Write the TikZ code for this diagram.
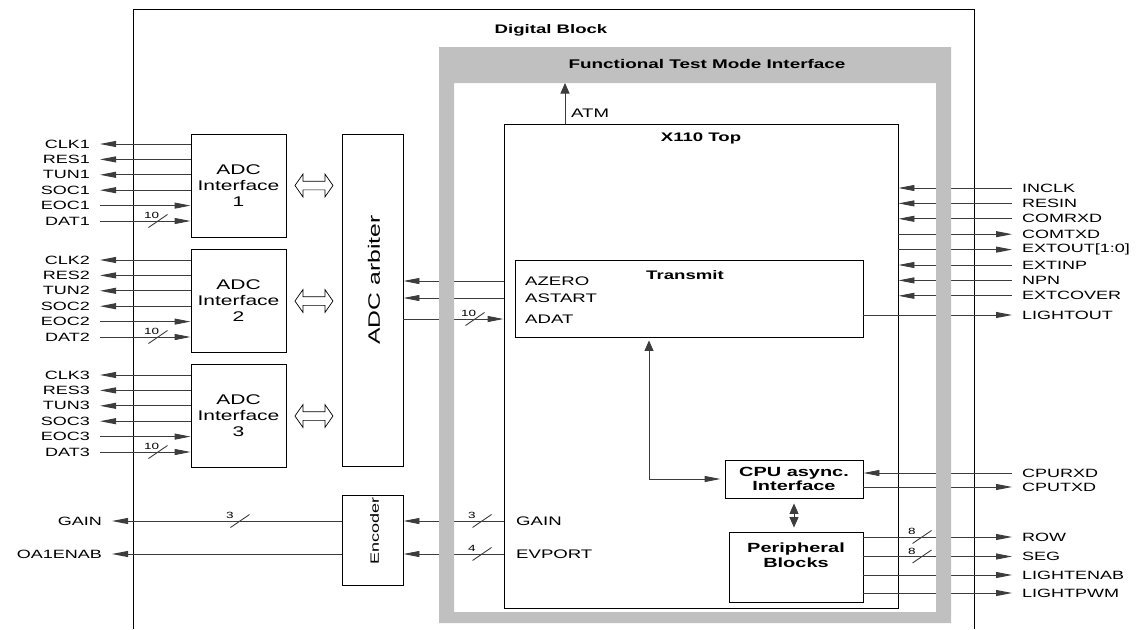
\documentclass[tikz,border=0pt]{standalone}
\usepackage{fontspec}
\setmainfont{Liberation Sans}[FakeStretch=1.5]
\usetikzlibrary{arrows.meta,shapes.arrows}

\definecolor{ftmgray}{RGB}{192,192,192}
\definecolor{wirecol}{RGB}{60,60,60}

\tikzset{
  >={Triangle[length=16pt,width=6pt]},
  box/.style={draw=black, line width=0.9pt, inner sep=0pt, align=center},
  wire/.style={draw=wirecol, line width=0.9pt},
  vhead/.style={-{Triangle[length=10.5pt,width=9pt]}},
  sigl/.style={anchor=east, inner xsep=10pt, inner ysep=0pt, font=\fontsize{12}{14}\selectfont},
  sigr/.style={anchor=west, inner xsep=10pt, inner ysep=0pt, font=\fontsize{12}{14}\selectfont},
  port/.style={anchor=west, inner sep=0pt, font=\fontsize{12.4}{14}\selectfont},
  ttl/.style={inner sep=0pt, font=\bfseries\fontsize{12.4}{14}\selectfont},
  buswd/.style={anchor=south west, inner sep=0pt, font=\fontsize{9}{10}\selectfont},
  hollow/.style={shape=double arrow, draw=black, fill=white, line width=0.7pt,
    inner sep=4pt, minimum height=38pt, double arrow head extend=7pt,
    double arrow tip angle=110}
}
\newcommand{\busmark}[2]{%
  \draw[wire] (#1) +(-9.5,6.5) -- +(9.5,-6.5);
  \path (#1) +(-14,-2) node[buswd] {#2};}

\begin{document}
\begin{tikzpicture}[x=1pt,y=-1pt]
  \useasboundingbox (0,0) rectangle (1140,629);
  \draw[line width=0.9pt] (133,629) -- (133,9) -- (974,9) -- (974,629);
  \node[ttl] (dig) at (551,30) {Digital Block};

  % X110 top and its inner blocks
  \node[box, minimum width=394pt, minimum height=484pt] (top) at (701,366) {};
  \node[ttl] (toplbl) at (701,138) {X110 Top};
  \node[box, minimum width=348pt, minimum height=77pt] (tx) at (689,298.5) {};
  \node[ttl] (txlbl) at (685,275) {Transmit};
  \node[port] (azero) at (525,281) {AZERO};
  \node[port] (astart) at (525,298) {ASTART};
  \node[port] (adat) at (525,319) {ADAT};
  \node[port] (atm) at (571,113) {ATM};
  \node[port] (gainp) at (516,521) {GAIN};
  \node[port] (evport) at (516,554) {EVPORT};
  \node[box, minimum width=138pt, minimum height=38pt,
    font=\bfseries\fontsize{13.3}{14.5}\selectfont] (cpu) at (794,479) {CPU async.\\Interface};
  \node[box, minimum width=134pt, minimum height=70pt] (per) at (796,567) {};
  \node[align=center, font=\bfseries\fontsize{13.3}{15.5}\selectfont] (perlbl) at (796,555) {Peripheral\\Blocks};

  % ADC side
  \foreach \n/\yy in {1/185.5,2/301,3/416}
    \node[box, minimum width=95pt, minimum height=103pt,
      font=\fontsize{14}{16}\selectfont] (adc\n) at (238.5,\yy) {ADC\\Interface\\\n};
  \node[box, minimum width=61pt, minimum height=332pt] (arb) at (372.5,300) {};
  \node[rotate=90, inner sep=0pt, font=\fontsize{16.5}{18}\selectfont] (arblbl) at (374,280) {ADC arbiter};
  \node[box, minimum width=61pt, minimum height=90pt] (enc) at (372.5,540) {};
  \node[rotate=90, inner sep=0pt, font=\fontsize{12}{14}\selectfont] (enclbl) at (374.5,531) {Encoder};
  \foreach \n in {1,2,3}
    \node[hollow] (link\n) at ([xshift=27.5pt]adc\n.east) {};

  \foreach \n/\yy in {1/144,2/260,3/375} {
    \node[sigl] (clk\n) at (100,\yy) {CLK\n};
    \node[sigl] (res\n) at (100,\yy+15.4) {RES\n};
    \node[sigl] (tun\n) at (100,\yy+30.8) {TUN\n};
    \node[sigl] (soc\n) at (100,\yy+46.2) {SOC\n};
    \node[sigl] (eoc\n) at (100,\yy+61.6) {EOC\n};
    \node[sigl] (dat\n) at (100,\yy+77) {DAT\n};
    \foreach \s in {clk,res,tun,soc}
      \draw[wire,->] (adc\n.west |- \s\n) -- (\s\n);
    \foreach \s in {eoc,dat}
      \draw[wire,->] (\s\n) -- (\s\n -| adc\n.west);
    \busmark{158,\yy+77}{10}
  }

  \draw[wire,->] (top.west |- azero) -- (arb.east |- azero);
  \draw[wire,->] (top.west |- astart) -- (arb.east |- astart);
  \draw[wire,->] (arb.east |- adat) -- (top.west |- adat);
  \busmark{475,319}{10}

  \draw[wire,->] (top.west |- gainp) -- (enc.east |- gainp);
  \draw[wire,->] (top.west |- evport) -- (enc.east |- evport);
  \busmark{482,521}{3}
  \busmark{482,554}{4}
  \node[sigl] (gaino) at (112,521) {GAIN};
  \node[sigl] (oaenab) at (112,554) {OA1ENAB};
  \draw[wire,->] (enc.west |- gaino) -- (gaino);
  \draw[wire,->] (enc.west |- oaenab) -- (oaenab);
  \busmark{240,521}{3}

  % right side pins
  \foreach \id/\nm/\yy in {inclk/INCLK/188,resin/RESIN/203.4,comrxd/COMRXD/218.8,
      extinp/EXTINP/265,npn/NPN/280.4,extcover/EXTCOVER/295.8} {
    \node[sigr] (\id) at (1012,\yy) {\nm};
    \draw[wire,->] (\id) -- (\id -| top.east);
  }
  \foreach \id/\nm/\yy in {comtxd/COMTXD/234.2,extout/{EXTOUT[1:0]}/249.6} {
    \node[sigr] (\id) at (1012,\yy) {\nm};
    \draw[wire,->] (top.east |- \id) -- (\id);
  }
  \node[sigr] (lightout) at (1012,315) {LIGHTOUT};
  \draw[wire,->] (tx.east |- lightout) -- (lightout);

  \node[sigr] (cpurxd) at (1012,473) {CPURXD};
  \node[sigr] (cputxd) at (1012,487) {CPUTXD};
  \draw[wire,->] (cpurxd) -- (cpurxd -| cpu.east);
  \draw[wire,->] (cpu.east |- cputxd) -- (cputxd);

  \foreach \id/\nm/\yy in {row/ROW/537,seg/SEG/556.5,lightenab/LIGHTENAB/575,lightpwm/LIGHTPWM/593} {
    \node[sigr] (\id) at (1012,\yy) {\nm};
    \draw[wire,->] (per.east |- \id) -- (\id);
  }
  \busmark{922,537}{8}
  \busmark{922,556.5}{8}

  \coordinate (bend) at (649,479);
  \draw[wire,{Triangle[length=10.5pt,width=9pt]}->, shorten <=3pt, shorten >=4pt]
    (bend |- tx.south) -- (bend) -- (cpu.west);
  \draw[wire,{Triangle[length=10.5pt,width=9pt]}-{Triangle[length=10.5pt,width=9pt]},
    shorten <=5pt, shorten >=4pt] (cpu.south) -- (cpu.south |- per.north);

  \coordinate (ftmtop) at (565,83);
  \draw[wire,vhead] (top.north -| ftmtop) -- (ftmtop);

  % functional test mode frame
  \fill[ftmgray, even odd rule] (439,47) rectangle (951,623) (454,83) rectangle (936,612);
  \node[ttl, font=\bfseries\fontsize{12.6}{14}\selectfont] (ftm) at (707,64) {Functional Test Mode Interface};
\end{tikzpicture}
\end{document}
